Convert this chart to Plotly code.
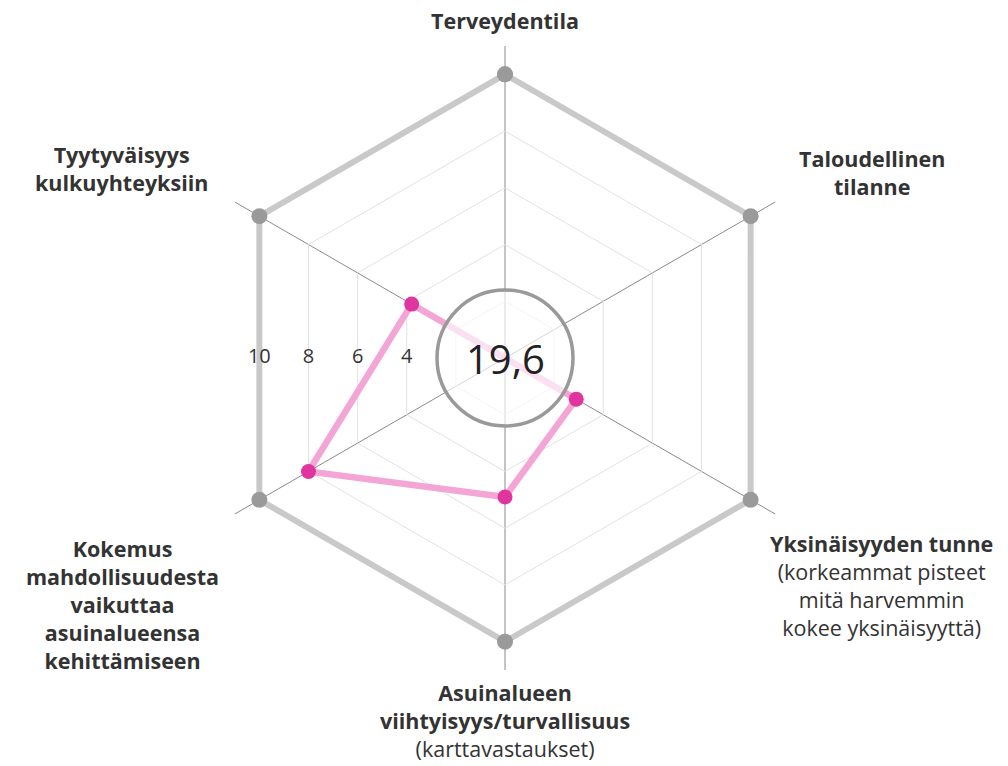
import math
import plotly.graph_objects as go

categories = [
    "Terveydentila",
    "Taloudellinen tilanne",
    "Yksinäisyyden tunne",
    "Asuinalueen viihtyisyys/turvallisuus",
    "Kokemus mahdollisuudesta vaikuttaa asuinalueensa kehittämiseen",
    "Tyytyväisyys kulkuyhteyksiin",
]
label_texts = [
    "<b>Terveydentila</b>",
    "<b>Taloudellinen<br>tilanne</b>",
    "<b>Yksinäisyyden tunne</b><br>(korkeammat pisteet<br>mitä harvemmin<br>kokee yksinäisyyttä)",
    "<b>Asuinalueen<br>viihtyisyys/turvallisuus</b><br>(karttavastaukset)",
    "<b>Kokemus<br>mahdollisuudesta<br>vaikuttaa<br>asuinalueensa<br>kehittämiseen</b>",
    "<b>Tyytyväisyys<br>kulkuyhteyksiin</b>",
]
values = [0.0, 0.0, 2.9, 4.9, 8.0, 3.8]
max_values = [10, 10, 10, 10, 10, 10]
radial_ticks = [4, 6, 8, 10]
radial_max = 11

# label placement (pixels in 1008x766 canvas)
label_pos = [(505, 20), (872, 172), (881, 585), (505, 720), (122, 604), (121, 168)]

W, H = 1008, 766
cx, cy = 505, 358
R = 312  # px radius of polar area

fig = go.Figure()

closed = lambda arr: list(arr) + [arr[0]]

fig.add_trace(go.Scatterpolar(
    r=closed(max_values), theta=closed(categories), mode="lines+markers",
    line=dict(color="#c9c9c9", width=6),
    marker=dict(color="#9a9a9a", size=16),
    hoverinfo="skip", showlegend=False, subplot="polar",
))
fig.add_trace(go.Scatterpolar(
    r=closed(values), theta=closed(categories), mode="lines+markers",
    line=dict(color="#f3a6d6", width=6.5),
    marker=dict(color="#e0359f", size=15),
    showlegend=False, subplot="polar",
))

# radial tick labels placed on the hexagon edge along the left direction
fig.add_trace(go.Scatterpolar(
    r=radial_ticks, theta=[270] * len(radial_ticks), mode="text",
    text=[str(t) for t in radial_ticks],
    textfont=dict(family="Open Sans", size=20, color="#333333"),
    textposition="middle center",
    hoverinfo="skip", showlegend=False, subplot="polar2",
))

dom_x = [(cx - R) / W, (cx + R) / W]
dom_y = [((H - cy) - R) / H, ((H - cy) + R) / H]

fig.update_layout(
    width=W, height=H,
    margin=dict(l=0, r=0, t=0, b=0),
    paper_bgcolor="white",
    plot_bgcolor="white",
    polar=dict(
        domain=dict(x=dom_x, y=dom_y),
        gridshape="linear",
        bgcolor="white",
        radialaxis=dict(
            range=[0, radial_max], tickvals=[2, 4, 6, 8, 10],
            showticklabels=False, showline=False, ticks="",
            gridcolor="#e2e2e2", gridwidth=1,
        ),
        angularaxis=dict(
            type="category", categoryarray=categories,
            rotation=90, direction="clockwise",
            showticklabels=False, ticks="", showline=False,
            gridcolor="#8a8a8a", gridwidth=1,
        ),
    ),
    polar2=dict(
        domain=dict(x=dom_x, y=dom_y),
        bgcolor="rgba(0,0,0,0)",
        # hexagon edge lies at cos(30°) of the vertex radius
        radialaxis=dict(range=[0, radial_max / math.cos(math.radians(30))],
                        visible=False, showgrid=False),
        angularaxis=dict(rotation=90, direction="clockwise", visible=False,
                         showgrid=False),
    ),
)

# centre circle with total
rc = 68
fig.add_shape(
    type="circle", xref="paper", yref="paper",
    x0=(cx - rc) / W, x1=(cx + rc) / W,
    y0=((H - cy) - rc) / H, y1=((H - cy) + rc) / H,
    fillcolor="rgba(255,255,255,0.65)",
    line=dict(color="#999999", width=3.5),
    layer="above",
)
total = sum(values)
fig.add_annotation(
    x=cx / W, y=(H - cy) / H, xref="paper", yref="paper",
    text=f"{total:.1f}".replace(".", ","), showarrow=False,
    font=dict(family="Open Sans", size=40, color="#222222"),
)

for txt, (px, py) in zip(label_texts, label_pos):
    fig.add_annotation(
        x=px / W, y=(H - py) / H, xref="paper", yref="paper",
        text=txt, showarrow=False, align="center",
        xanchor="center", yanchor="middle",
        font=dict(family="Open Sans", size=21.5, color="#333333"),
    )

fig.write_html(
    "out.html",
    config={"displayModeBar": False},
    post_script="document.body.style.margin='0';document.body.style.overflow='hidden';",
)
